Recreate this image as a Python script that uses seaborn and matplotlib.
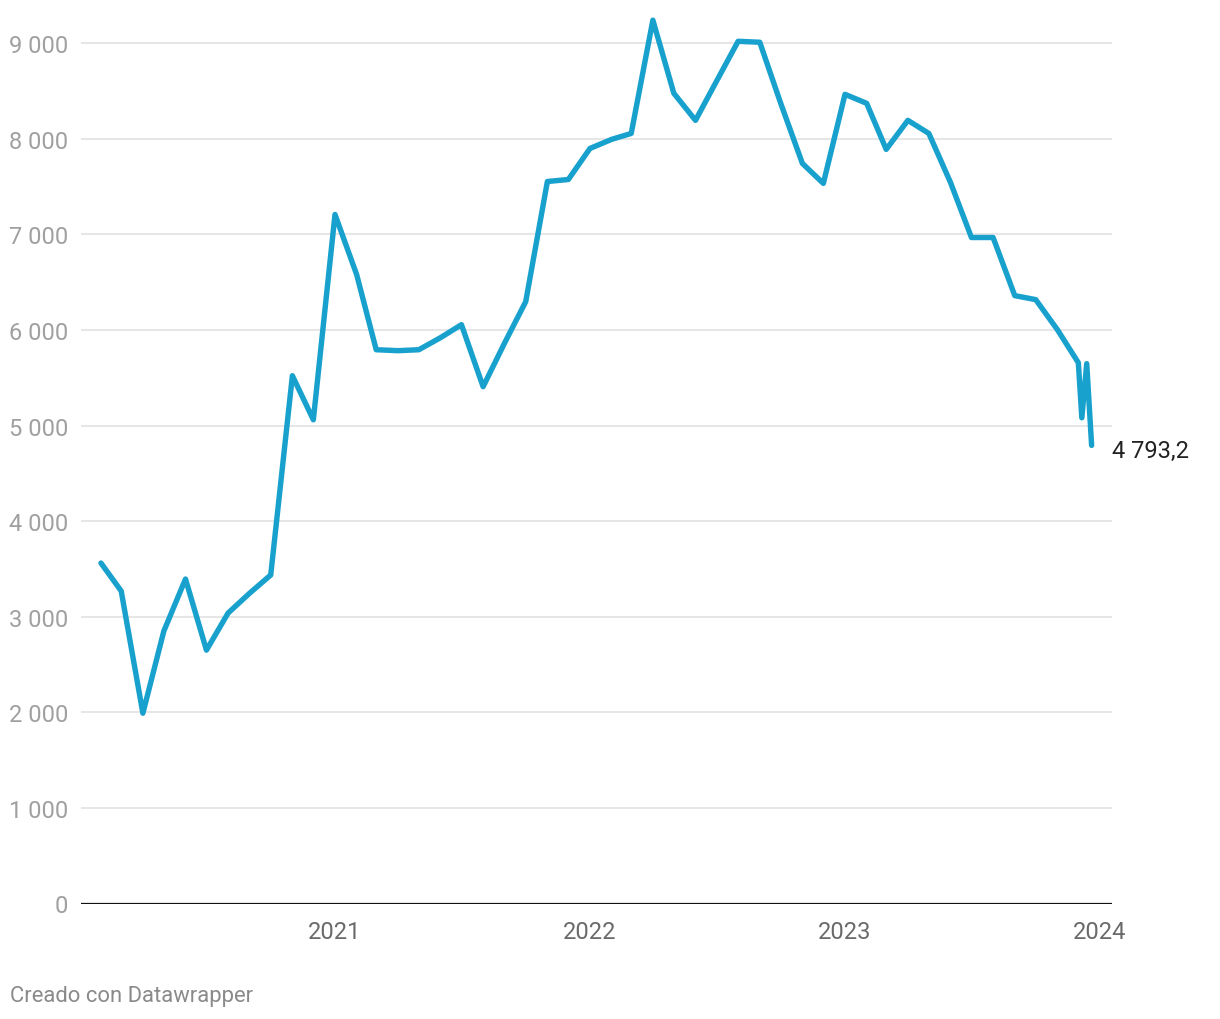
import pandas as pd
import matplotlib
matplotlib.use("Agg")
import matplotlib.pyplot as plt
import matplotlib.ticker as mticker
import seaborn as sns

# ---------- data ----------
monthly_start = "2020-02-01"
monthly_values = [
    3562, 3269, 1991, 2850, 3395, 2651, 3039, 3248, 3437, 5522, 5061,   # 2020
    7209, 6580, 5794, 5784, 5794, 5920, 6056, 5407, 5868, 6297, 7554, 7575,  # 2021
    7900, 7995, 8057, 9242, 8477, 8194, 8602, 9021, 9011, 8372, 7743, 7534,  # 2022
    8466, 8372, 7890, 8194, 8057, 7544, 6968, 6968, 6360, 6318, 6004, 5658,  # 2023
]
tail_dates = ["2023-12-06", "2023-12-13", "2023-12-20"]
tail_values = [5082, 5648, 4793.2]

year_ticks = ["2021", "2022", "2023", "2024"]
y_ticks = [0, 1000, 2000, 3000, 4000, 5000, 6000, 7000, 8000, 9000]
last_label = "4 793,2"
credit = "Creado con Datawrapper"

dates = list(pd.date_range(monthly_start, periods=len(monthly_values), freq="MS"))
dates += list(pd.to_datetime(tail_dates))
df = pd.DataFrame({"fecha": dates, "valor": monthly_values + tail_values})

# ---------- style ----------
sns.set_theme(style="white")
plt.rcParams["font.family"] = ["Roboto", "DejaVu Sans"]

fig = plt.figure(figsize=(12.2, 10.2), dpi=100)
W, H = 1220, 1020
left, right = 81, 1112
y_zero, y_9000 = 904.5, 44.3
top = 4
px_per_k = (y_zero - y_9000) / 9
ax = fig.add_axes([left / W, 1 - y_zero / H, (right - left) / W, (y_zero - top) / H])

sns.lineplot(data=df, x="fecha", y="valor", ax=ax, color="#18a1cd",
             linewidth=3.9, solid_joinstyle="round", solid_capstyle="round")

# axes limits
x0 = pd.Timestamp("2021-01-01") - pd.Timedelta(days=254 * 365 / 255)
x1 = pd.Timestamp("2024-01-01") + pd.Timedelta(days=12 * 365 / 255)
ax.set_xlim(x0, x1)
ax.set_ylim(0, (y_zero - top) / px_per_k * 1000)

# grid
for v in y_ticks[1:]:
    ax.axhline(v, color="#e2e2e2", linewidth=1.2, zorder=0)
ax.axhline(0, color="#111111", linewidth=1.6, zorder=3)

for s in ax.spines.values():
    s.set_visible(False)

ax.set_yticks(y_ticks)
ax.yaxis.set_major_formatter(mticker.FuncFormatter(
    lambda v, p: f"{int(v):,}".replace(",", " ")))
ax.tick_params(axis="y", length=0, pad=9, labelsize=17, labelcolor="#a0a0a0")

ax.set_xticks([pd.Timestamp(f"{y}-01-01") for y in year_ticks])
ax.set_xticklabels(year_ticks)
ax.tick_params(axis="x", length=0, pad=12, labelsize=17, labelcolor="#6a6a6a")

ax.set_xlabel("")
ax.set_ylabel("")
ax.grid(False)

# end label
ax.annotate(last_label, xy=(df["fecha"].iloc[-1], df["valor"].iloc[-1]),
            xytext=(15, -4), textcoords="offset points",
            ha="left", va="center", fontsize=17, color="#222222",
            annotation_clip=False)

fig.text(10 / W, 1 - 997 / H, credit, ha="left", va="center",
         fontsize=15.8, color="#8a8a8a")

fig.savefig("out.png", dpi=100, facecolor="white")
